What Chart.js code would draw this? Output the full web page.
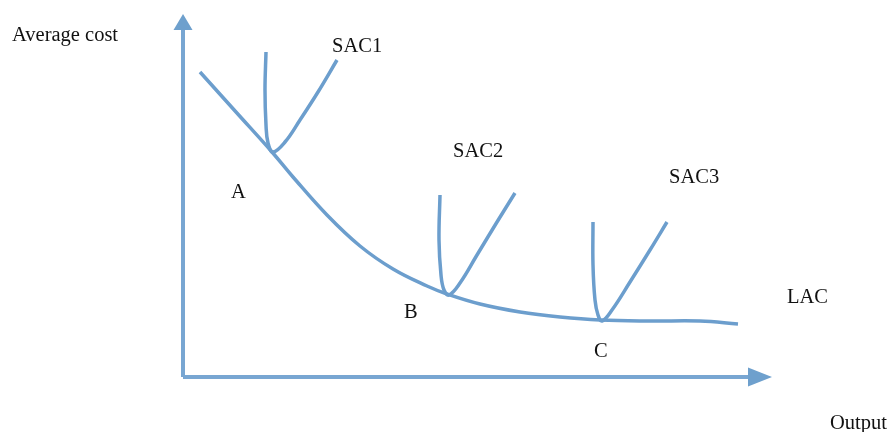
<!DOCTYPE html>
<html>
<head>
<meta charset="utf-8">
<script src="https://cdn.jsdelivr.net/npm/chart.js@4.4.0/dist/chart.umd.min.js"></script>
<style>
  html, body { margin: 0; padding: 0; background: #fff; }
  #wrap { width: 893px; height: 432px; }
</style>
</head>
<body>
<div id="wrap"><canvas id="chart_1" width="893" height="432"></canvas></div>
<script>
// curves, in output / cost units measured from the origin of the axes
var lacX = [17, 53, 89, 110, 144, 177, 210, 244, 264, 297, 337, 377, 417, 467, 517, 555];
var lacY = [305, 265, 225, 200, 162, 131, 108, 91, 83, 73, 65, 60, 57, 56, 56, 53];

var sac1X = [83, 82, 83, 85, 90, 102, 117, 135, 154];
var sac1Y = [325, 287, 252, 234, 225, 235, 257, 285, 317];

var sac2X = [257, 256, 258, 261, 266, 277, 294, 314, 332];
var sac2Y = [182, 137, 102, 87, 82, 94, 122, 155, 184];

var sac3X = [410, 410, 412, 415, 419, 429, 447, 467, 484];
var sac3Y = [155, 112, 77, 62, 56, 67, 95, 127, 155];

var axisMaxX = 589, axisMaxY = 363;

var labels = [
  { text: "Average cost", x: -171, y: 336 },
  { text: "SAC1", x: 149, y: 325 },
  { text: "SAC2", x: 270, y: 220 },
  { text: "SAC3", x: 486, y: 194 },
  { text: "A", x: 48, y: 179 },
  { text: "B", x: 221, y: 59 },
  { text: "C", x: 411, y: 20 },
  { text: "LAC", x: 604, y: 74 },
  { text: "Output", x: 647, y: -52 }
];

function pts(xs, ys) {
  return xs.map(function (x, i) { return { x: x, y: ys[i] }; });
}

var lineColor = 'rgba(108, 158, 205, 1)';

function curve(name, xs, ys) {
  return {
    label: name,
    data: pts(xs, ys),
    showLine: true,
    borderColor: lineColor,
    borderWidth: 3.5,
    pointRadius: 0,
    tension: 0.4,
    fill: false
  };
}

// ejes con flechas y textos
var extras = {
  id: 'extras',
  beforeDatasetsDraw: function (chart) {
    var c = chart.ctx, sx = chart.scales.x, sy = chart.scales.y;
    var ox = sx.getPixelForValue(0), oy = sy.getPixelForValue(0);
    var ex = sx.getPixelForValue(axisMaxX), ey = sy.getPixelForValue(axisMaxY);
    c.save();
    c.strokeStyle = 'rgba(120, 166, 210, 1)';
    c.fillStyle = 'rgba(110, 160, 205, 1)';
    c.lineWidth = 4;
    c.beginPath();
    c.moveTo(ox, oy); c.lineTo(ox, ey + 14);
    c.moveTo(ox, oy); c.lineTo(ex - 18, oy);
    c.stroke();
    c.beginPath();
    c.moveTo(ox, ey); c.lineTo(ox - 9.5, ey + 16); c.lineTo(ox + 9.5, ey + 16); c.closePath();
    c.fill();
    c.beginPath();
    c.moveTo(ex, oy); c.lineTo(ex - 24, oy - 9.5); c.lineTo(ex - 24, oy + 9.5); c.closePath();
    c.fill();
    c.restore();
  },
  afterDatasetsDraw: function (chart) {
    var c = chart.ctx, sx = chart.scales.x, sy = chart.scales.y;
    c.save();
    c.fillStyle = '#111';
    c.font = '20.5px "Liberation Serif", "DejaVu Serif", serif';
    c.textBaseline = 'alphabetic';
    labels.forEach(function (l) {
      c.fillText(l.text, sx.getPixelForValue(l.x), sy.getPixelForValue(l.y));
    });
    c.restore();
  }
};

var ctx = document.getElementById('chart_1').getContext('2d');
var chart = new Chart(ctx, {
  type: 'scatter',
  data: {
    datasets: [
      curve('LAC', lacX, lacY),
      curve('SAC1', sac1X, sac1Y),
      curve('SAC2', sac2X, sac2Y),
      curve('SAC3', sac3X, sac3Y)
    ]
  },
  options: {
    responsive: false,
    animation: false,
    layout: { padding: 0 },
    plugins: { legend: { display: false }, tooltip: { enabled: false } },
    scales: {
      x: { type: 'linear', min: -183, max: 710, display: false },
      y: { type: 'linear', min: -55, max: 377, display: false }
    }
  },
  plugins: [extras]
});
</script>
</body>
</html>
